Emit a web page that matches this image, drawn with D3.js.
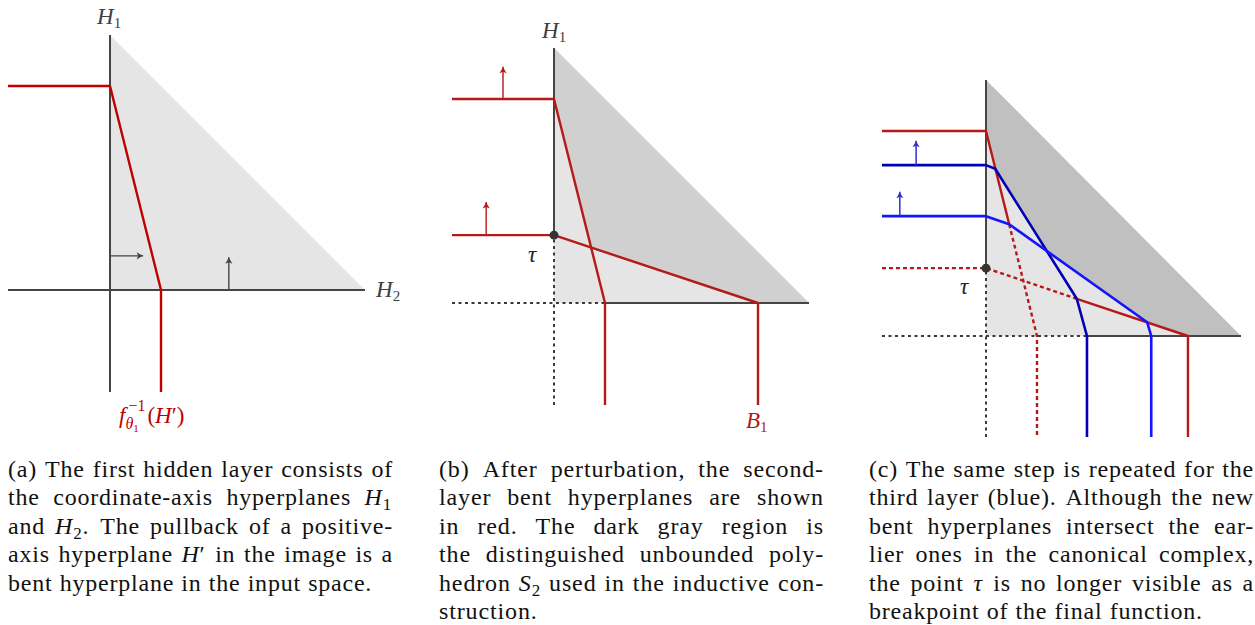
<!DOCTYPE html>
<html><head><meta charset="utf-8">
<script src="https://cdn.jsdelivr.net/npm/d3@7"></script>
<style>body{margin:0;background:#fff} svg{display:block}</style>
</head><body>
<svg id="chart" width="1255" height="625"></svg>
<script>
// ---------- data (units: origin at axis intersection) ----------
const triangle = [[0,5],[0,0],[5,0]];

// panel (a)
const aAxisV = [[0,-2],[0,5]];
const aAxisH = [[-2,0],[5,0]];
const aRed = [[-2,4],[0,4],[1,0],[1,-2]];
const aArrows = [[[0,0.67],[0.65,0.67]], [[2.33,0],[2.33,0.64]]];

// panel (b)
const bAxisVSolid = [[0,1.33],[0,5]];
const bAxisVDotted = [[0,-2],[0,1.33]];
const bAxisHDotted = [[-2,0],[1,0]];
const bAxisHSolid = [[1,0],[5,0]];
const bRed1 = [[-2,4],[0,4],[1,0],[1,-2]];
const bRed2 = [[-2,1.33],[0,1.33],[4,0],[4,-2]];
const bDark = [[0,5],[0,4],[0.727,1.09],[4,0],[5,0]];
const bArrows = [[[-1,4],[-1,4.63]], [[-1.33,1.33],[-1.33,1.98]]];
const bTau = [0,1.33];

// panel (c)
const cAxisVSolid = [[0,1.33],[0,5.02]];
const cAxisVDotted = [[0,-1.98],[0,1.33]];
const cAxisHDotted = [[-2.04,0],[1.98,0]];
const cAxisHSolid = [[1.98,0],[5,0]];
const cDark = [[0,5.02],[0,4.02],[0.18,3.28],[1.217,1.63],[3.16,0.27],[3.96,0],[5,0]];
const cTriangle = [[0,5.02],[0,0],[5,0]];
const cRed1Solid = [[-2.04,4.02],[0,4.02],[0.455,2.19]];
const cRed1Dashed = [[0.455,2.19],[1,0],[1,-1.98]];
const cRed2Dashed = [[-2.04,1.33],[0,1.33],[1.78,0.73]];
const cRed2Solid = [[1.78,0.73],[3.96,0],[3.96,-1.98]];
const cBlue1 = [[-2.04,3.35],[0,3.35],[0.18,3.28],[1.78,0.73],[1.98,0],[1.98,-1.98]];
const cBlue2 = [[-2.04,2.35],[0,2.35],[0.455,2.19],[3.16,0.27],[3.24,0],[3.24,-1.98]];
const cArrows = [[[-1.37,3.35],[-1.37,3.83]], [[-1.69,2.35],[-1.69,2.83]]];
const cTau = [0,1.33];

// captions
const capA = [
 "(a) The first hidden layer consists of",
 "the coordinate-axis hyperplanes $H_1$",
 "and $H_2$. The pullback of a positive-",
 "axis hyperplane $H'$ in the image is a",
 "bent hyperplane in the input space."
];
const capB = [
 "(b) After perturbation, the second-",
 "layer bent hyperplanes are shown",
 "in red. The dark gray region is",
 "the distinguished unbounded poly-",
 "hedron $S_2$ used in the inductive con-",
 "struction."
];
const capC = [
 "(c) The same step is repeated for the",
 "third layer (blue). Although the new",
 "bent hyperplanes intersect the ear-",
 "lier ones in the canonical complex,",
 "the point $τ$ is no longer visible as a",
 "breakpoint of the final function."
];

// ---------- styles ----------
const AX = "#454545", DOT = "#3a3a3a";
const RED_A = "#c00000", RED = "#b81818";
const BLUE1 = "#0000b5", BLUE2 = "#1414ff";
const SERIF = "Liberation Serif";

const svg = d3.select("#chart");
const defs = svg.append("defs");
function marker(id, color){
  defs.append("marker").attr("id", id)
    .attr("markerUnits","userSpaceOnUse")
    .attr("viewBox","-8 -5 10 10").attr("refX",0).attr("refY",0)
    .attr("markerWidth",10).attr("markerHeight",10).attr("orient","auto")
    .append("path").attr("d","M-6.5,-3.6 Q-2.5,-1 0,0 Q-2.5,1 -6.5,3.6 L-5,0 Z")
    .attr("fill",color);
}
marker("mGray", "#444");
marker("mRed", RED);
marker("mBlue", "#3030c8");

function panel(ox, oy){
  const x = d3.scaleLinear().domain([0,5]).range([ox, ox+255]);
  const y = d3.scaleLinear().domain([0,5]).range([oy, oy-255]);
  const line = d3.line().x(d=>x(d[0])).y(d=>y(d[1]));
  const g = svg.append("g");
  return {x, y, line, g};
}
function poly(P, pts, fill){ P.g.append("path").attr("d", P.line(pts)+"Z").attr("fill", fill); }
function path(P, pts, color, w, dash){
  const p = P.g.append("path").attr("d", P.line(pts)).attr("fill","none")
    .attr("stroke", color).attr("stroke-width", w).attr("stroke-linejoin","round");
  if (dash) p.attr("stroke-dasharray", dash);
  return p;
}
function arrow(P, a, color, m, w){
  path(P, a, color, w||1.4).attr("marker-end", `url(#${m})`);
}
function label(x0, y0, runs, color, size){
  const t = svg.append("text").attr("x", x0).attr("y", y0)
    .style("font-family", SERIF).attr("font-size", size).attr("fill", color);
  runs.forEach(r => {
    const s = t.append("tspan").text(r.t);
    if (r.i) s.attr("font-style","italic");
    if (r.sz) s.attr("font-size", r.sz);
    if (r.dy) s.attr("dy", r.dy);
  });
  return t;
}

// ---------- panel (a) ----------
const A = panel(110, 290);
poly(A, triangle, "#e5e5e5");
path(A, aAxisV, AX, 2);
path(A, aAxisH, AX, 2);
path(A, aRed, RED_A, 2.4);
aArrows.forEach(a => arrow(A, a, "#444", "mGray", 1.4));
label(97, 24, [{t:"H", i:true},{t:"1", sz:15, dy:4}], "#404040", 23);
label(376, 297, [{t:"H", i:true},{t:"2", sz:15, dy:4}], "#404040", 23);
{
  const f = label(119, 423, [{t:"f", i:true}], RED_A, 23);
  const fx = 119 + f.node().getComputedTextLength();
  const sup = label(fx+3, 411, [{t:"−1"}], RED_A, 16);
  const sub = label(fx, 429, [{t:"θ", i:true},{t:"1", sz:11, dy:3}], RED_A, 16);
  const w = Math.max(sup.node().getComputedTextLength()+3, sub.node().getComputedTextLength());
  label(fx + w + 2, 423, [{t:"("},{t:"H", i:true},{t:"′)"}], RED_A, 23);
}

// ---------- panel (b) ----------
const B = panel(554, 303);
poly(B, triangle, "#e5e5e5");
poly(B, bDark, "#d0d0d0");
path(B, bAxisVDotted, DOT, 2, "3,3.5");
path(B, bAxisHDotted, DOT, 2, "3,3.5");
path(B, bAxisVSolid, AX, 2);
path(B, bAxisHSolid, AX, 2);
path(B, bRed1, RED, 2.4);
path(B, bRed2, RED, 2.4);
bArrows.forEach(a => arrow(B, a, RED, "mRed", 1.4));
B.g.append("circle").attr("cx", B.x(bTau[0])).attr("cy", B.y(bTau[1])).attr("r", 4.5).attr("fill","#333");
label(542, 38, [{t:"H", i:true},{t:"1", sz:15, dy:4}], "#404040", 23);
label(528, 262, [{t:"τ", i:true}], "#222", 23);
label(746, 428, [{t:"B", i:true},{t:"1", sz:15, dy:4}], RED, 23);

// ---------- panel (c) ----------
const C = panel(986, 336);
poly(C, cTriangle, "#e5e5e5");
poly(C, cDark, "#c0c0c0");
path(C, cAxisVDotted, DOT, 2, "3,3.5");
path(C, cAxisHDotted, DOT, 2, "3,3.5");
path(C, cAxisVSolid, AX, 2);
path(C, cAxisHSolid, AX, 2);
path(C, cRed1Dashed, RED, 2.4, "4,3");
path(C, cRed2Dashed, RED, 2.4, "4,3");
path(C, cRed1Solid, RED, 2.4);
path(C, cRed2Solid, RED, 2.4);
path(C, cBlue1, BLUE1, 2.6);
path(C, cBlue2, BLUE2, 2.6);
cArrows.forEach(a => arrow(C, a, "#3030c8", "mBlue", 1.5));
C.g.append("circle").attr("cx", C.x(cTau[0])).attr("cy", C.y(cTau[1])).attr("r", 4.5).attr("fill","#333");
label(960, 294, [{t:"τ", i:true}], "#222", 23);

// ---------- captions (justified) ----------
const CAP_SIZE = 24, LINE_H = 28.5;
function wordRuns(word){
  const runs = [];
  const re = /\$([^$]+)\$/g; let last = 0, m, pend = 0;
  const push = r => { if (pend) { r.dy = (r.dy||0) + pend; pend = 0; } runs.push(r); };
  while ((m = re.exec(word))){
    if (m.index > last) push({t: word.slice(last, m.index)});
    const mm = m[1].match(/^(.)(?:_(.))?('?)$/);
    push({t: mm[1], i:true});
    if (mm[2]) { push({t: mm[2], sz: 17, dy: 5}); pend = -5; }
    if (mm[3]) push({t:"′"});
    last = re.lastIndex;
  }
  if (last < word.length) push({t: word.slice(last)});
  return runs;
}
function caption(lines, left, width, top){
  const SP = CAP_SIZE*0.3;
  const rows = lines.map((ln, li) => {
    const words = ln.split(" ");
    const els = words.map(w => label(0, top + li*LINE_H, wordRuns(w), "#111", CAP_SIZE));
    return {words, els};
  });
  // global letter spacing estimated from the justified lines
  const ests = rows.slice(0, -1).map(r => {
    const sum = d3.sum(r.els, e => e.node().getBBox().width);
    const chars = d3.sum(r.words, w => w.replace(/\$|_|'/g, "").length);
    return (width - sum - (r.words.length-1)*SP) / chars;
  });
  const ls = Math.max(0, d3.min(ests) * 0.85);
  rows.forEach((r, li) => {
    r.els.forEach(e => e.style("letter-spacing", ls + "px"));
    const ws = r.els.map(e => e.node().getBBox().width);
    const sum = d3.sum(ws);
    const isLast = li === rows.length-1;
    const gap = isLast ? SP : (width - sum)/(r.words.length-1);
    let xx = left;
    r.els.forEach((e,i) => { e.attr("x", xx); xx += ws[i] + gap; });
  });
}
caption(capA, 8, 385, 476.5);
caption(capB, 439, 385, 476.5);
caption(capC, 869, 385, 476.5);
</script>
</body></html>
